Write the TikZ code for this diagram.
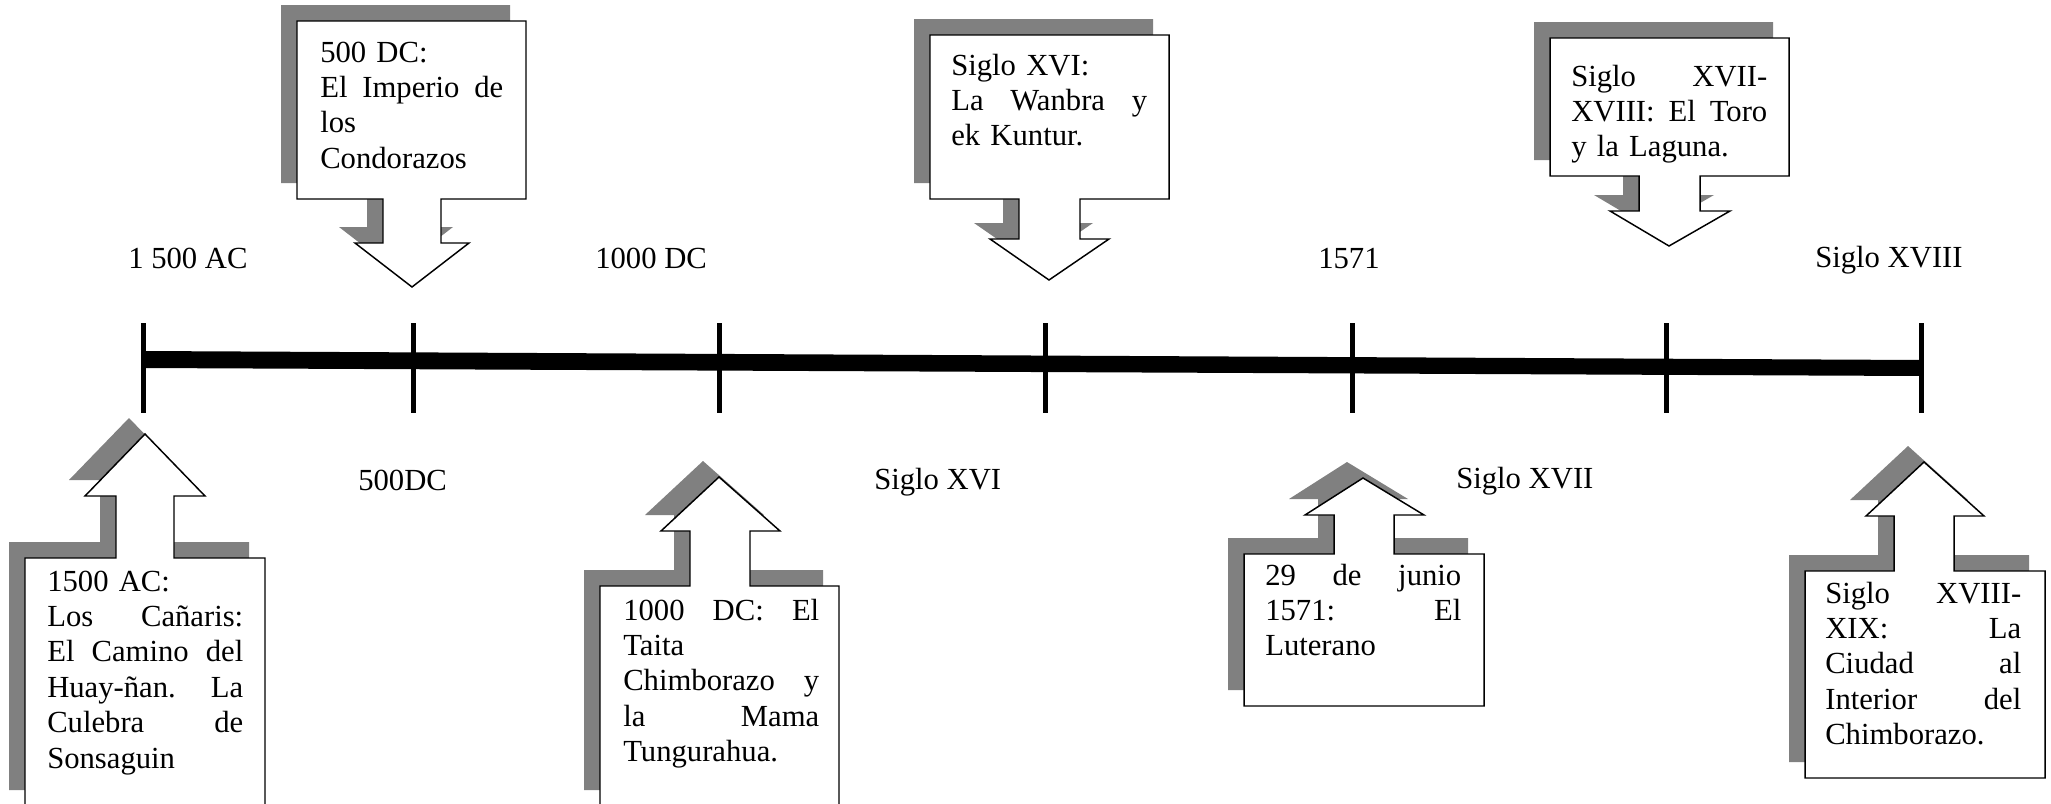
\documentclass[tikz,border=0pt]{standalone}
\usepackage{fontspec}
\setmainfont{Liberation Serif}
\definecolor{shadowgray}{HTML}{808080}
\newlength\boxtw
\newcommand\jl[1]{\makebox[\boxtw][s]{\spaceskip=0pt\xspaceskip=0pt\frenchspacing #1}}
\newcommand\mycallout[1]{\path[shade,shift={(-16,-16)}] #1; \path[outline] #1;}
\tikzset{
 lbl/.style={anchor=base west, inner sep=0pt, font=\fontsize{23pt}{26.6pt}\selectfont},
 boxtext/.style={anchor=base west, inner sep=0pt, align=left, text width=#1,
   execute at begin node={\setlength\boxtw{#1}},
   font=\fontsize{23pt}{26.6pt}\selectfont},
 outline/.style={fill=white, draw=black, line width=1.1pt, line join=miter},
 shade/.style={fill=shadowgray},
 tickmark/.style={line width=3.75pt}
}
\begin{document}
\begin{tikzpicture}[x=0.75pt,y=-0.75pt]
\useasboundingbox (0,0) rectangle (2051,803);
% timeline bar
\fill (143,351) -- (1921,360) -- (1921,376) -- (143,368) -- cycle;
\foreach \tx in {143,413,719,1045,1352,1666,1921}{
  \draw[tickmark] (\tx,323) -- (\tx,413);
}
% callouts
\mycallout{(25,558) -- (116,558) -- (116,496) -- (85,496) -- (145,434) -- (205,496) -- (174,496) -- (174,558) -- (265,558) -- (265,806) -- (25,806) -- cycle}
\mycallout{(297,21) -- (526,21) -- (526,199) -- (441,199) -- (441,243) -- (469,243) -- (412,287) -- (355,243) -- (383,243) -- (383,199) -- (297,199) -- cycle}
\mycallout{(600,586) -- (690,586) -- (690,531) -- (661,531) -- (719,477) -- (780,531) -- (750,531) -- (750,586) -- (839,586) -- (839,806) -- (600,806) -- cycle}
\mycallout{(930,35) -- (1169,35) -- (1169,199) -- (1080,199) -- (1080,239) -- (1109,239) -- (1049,280) -- (990,239) -- (1019,239) -- (1019,199) -- (930,199) -- cycle}
\mycallout{(1244,554) -- (1334,554) -- (1334,515) -- (1305,515) -- (1363,478) -- (1424,515) -- (1394,515) -- (1394,554) -- (1484,554) -- (1484,706) -- (1244,706) -- cycle}
\mycallout{(1550,38) -- (1789,38) -- (1789,176) -- (1700,176) -- (1700,211) -- (1730,211) -- (1669,246) -- (1610,211) -- (1639,211) -- (1639,176) -- (1550,176) -- cycle}
\mycallout{(1805,571) -- (1894,571) -- (1894,516) -- (1866,516) -- (1924,462) -- (1984,516) -- (1954,516) -- (1954,571) -- (2045,571) -- (2045,778) -- (1805,778) -- cycle}
% callout texts
\node[boxtext=147pt] (t1) at (47,591) {1500 AC:\\ \jl{Los Cañaris:}\\ \jl{El Camino del}\\ \jl{Huay-ñan. La}\\ \jl{Culebra de}\\ Sonsaguin};
\node[boxtext=137.25pt] (t2) at (320,62) {500 DC:\\ \jl{El Imperio de}\\ los\\ Condorazos};
\node[boxtext=147pt] (t3) at (623,620) {\jl{1000 DC: El}\\ Taita\\ \jl{Chimborazo y}\\ \jl{la Mama}\\ Tungurahua.};
\node[boxtext=147pt] (t4) at (951,75) {Siglo XVI:\\ \jl{La Wanbra y}\\ ek Kuntur.};
\node[boxtext=147pt] (t5) at (1265,585) {\jl{29 de junio}\\ \jl{1571: El}\\ Luterano};
\node[boxtext=147pt] (t6) at (1571,86) {\jl{Siglo XVII-}\\ \jl{XVIII: El Toro}\\ y la Laguna.};
\node[boxtext=147pt] (t7) at (1825,603) {\jl{Siglo XVIII-}\\ \jl{XIX: La}\\ \jl{Ciudad al}\\ \jl{Interior del}\\ Chimborazo.};
% timeline labels
\node[lbl] (l1) at (128,268) {1 500 AC};
\node[lbl] (l2) at (595,268) {1000 DC};
\node[lbl] (l3) at (1318,268) {1571};
\node[lbl] (l4) at (1815,267) {Siglo XVIII};
\node[lbl] (l5) at (358,490) {500DC};
\node[lbl] (l6) at (874,489) {Siglo XVI};
\node[lbl] (l7) at (1456,488) {Siglo XVII};
\end{tikzpicture}
\end{document}
